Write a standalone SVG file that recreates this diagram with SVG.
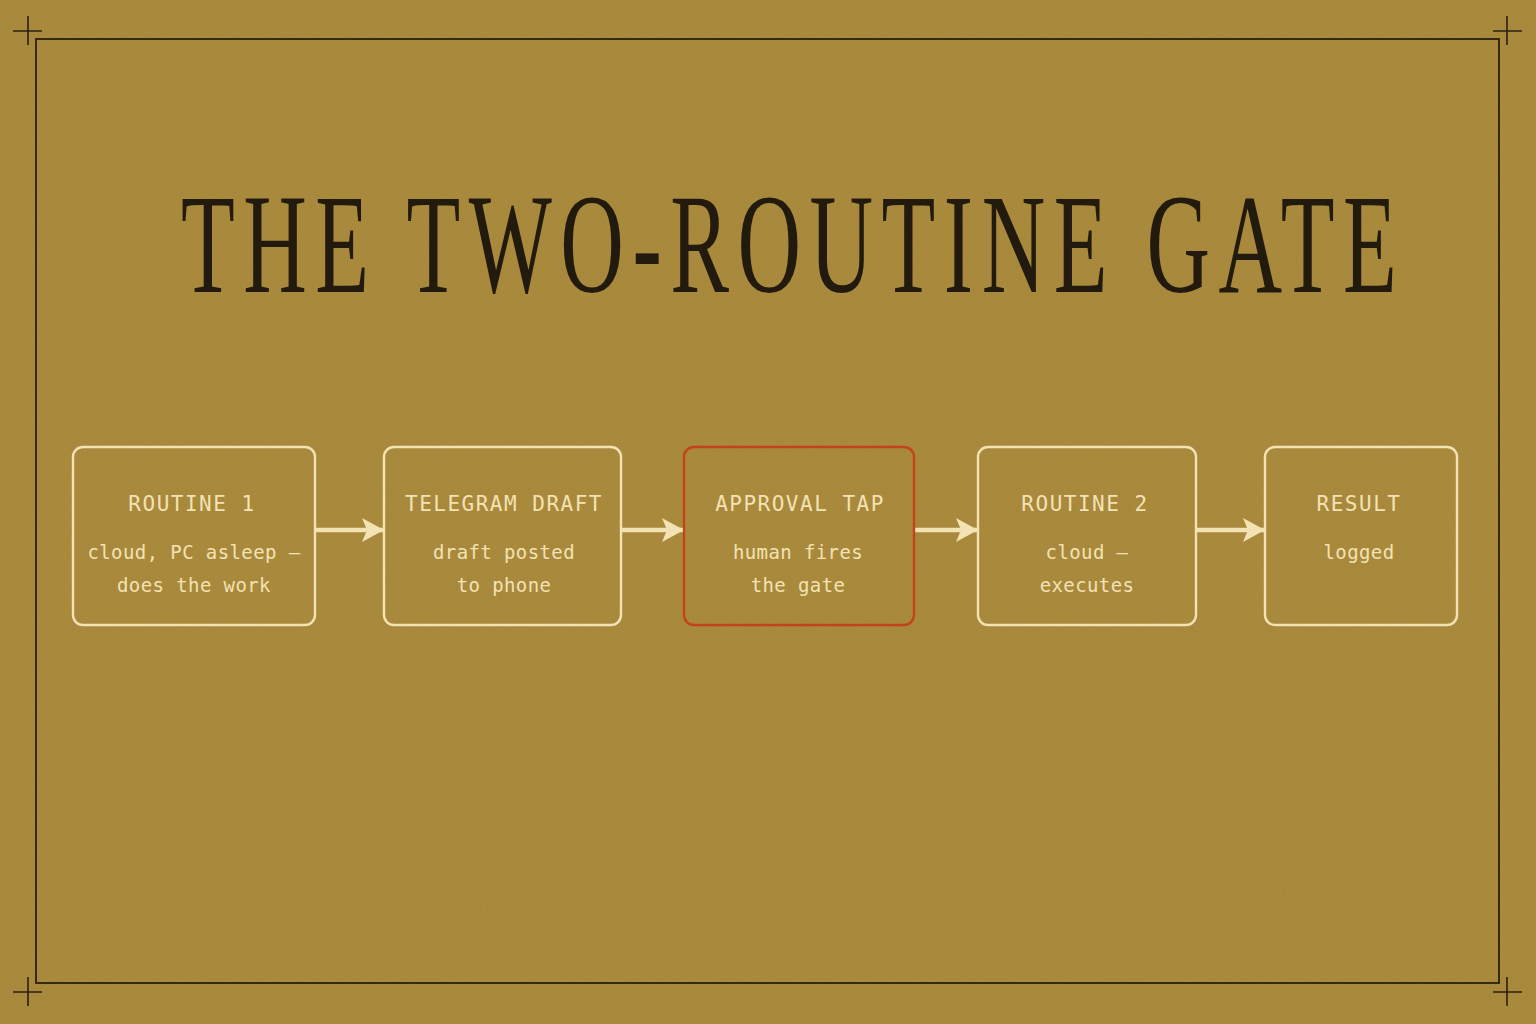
<svg xmlns="http://www.w3.org/2000/svg" width="1536" height="1024" viewBox="0 0 1536 1024">
<defs>
<filter id="paper" x="0" y="0" width="100%" height="100%">
<feTurbulence type="fractalNoise" baseFrequency="0.9" numOctaves="3" seed="4" result="n"/>
<feColorMatrix in="n" type="matrix" values="0 0 0 0 0.45  0 0 0 0 0.35  0 0 0 0 0.12  0 0 0 0.9 -0.35"/>
</filter>
<marker id="ah" viewBox="0 0 22 24" refX="21" refY="12" markerWidth="22" markerHeight="24" markerUnits="userSpaceOnUse" orient="auto">
<path d="M0,0 L22,12 L0,24 L5,12 Z" fill="#f3e2b3"/>
</marker>
<style>
.frame{fill:none;stroke:#2a2010;stroke-width:1.8}
.cross{stroke:#2a2010;stroke-width:1.6}
.box{fill:none;stroke:#f3e2b3;stroke-width:2.4}
.gate{fill:none;stroke:#c4431d;stroke-width:2.4}
.hd{font-family:"DejaVu Sans Mono","Liberation Mono",monospace;font-size:21px;fill:#f3e2b3;text-anchor:middle;letter-spacing:1.5px}
.sb{font-family:"DejaVu Sans Mono","Liberation Mono",monospace;font-size:19px;fill:#f3e2b3;text-anchor:middle;letter-spacing:0.4px}
.edge{stroke:#f3e2b3;stroke-width:4.5;fill:none;marker-end:url(#ah)}
.title{font-family:"Liberation Serif","DejaVu Serif",serif;font-size:142px;fill:#221a0d}
</style>
</defs>
<rect width="1536" height="1024" fill="#a8883a"/>
<rect width="1536" height="1024" filter="url(#paper)" opacity="0.5"/>
<g id="frame">
<rect class="frame" x="36" y="39" width="1463" height="944"/>
<path class="cross" d="M13,31 H42 M28,16 V45 M1493,31 H1522 M1507,16 V45 M13,992 H42 M28,977 V1006 M1493,992 H1522 M1507,977 V1006"/>
</g>
<g id="title" transform="scale(0.62,1)">
<text class="title" x="292" y="292" textLength="1961" lengthAdjust="spacing">THE TWO-ROUTINE GATE</text>
</g>
<g id="connectors">
<line class="edge" x1="316" y1="530" x2="383" y2="530"/>
<line class="edge" x1="622" y1="530" x2="683" y2="530"/>
<line class="edge" x1="915" y1="530" x2="977" y2="530"/>
<line class="edge" x1="1197" y1="530" x2="1264" y2="530"/>
</g>
<g id="routine1">
<rect class="box" x="73" y="447" width="242" height="178" rx="10"/>
<text class="hd" x="192" y="511">ROUTINE 1</text>
<text class="sb" x="194" y="559">cloud, PC asleep —</text>
<text class="sb" x="194" y="592">does the work</text>
</g>
<g id="telegram">
<rect class="box" x="384" y="447" width="237" height="178" rx="10"/>
<text class="hd" x="504" y="511">TELEGRAM DRAFT</text>
<text class="sb" x="504" y="559">draft posted</text>
<text class="sb" x="504" y="592">to phone</text>
</g>
<g id="approval">
<rect class="gate" x="684" y="447" width="230" height="178" rx="10"/>
<text class="hd" x="800" y="511">APPROVAL TAP</text>
<text class="sb" x="798" y="559">human fires</text>
<text class="sb" x="798" y="592">the gate</text>
</g>
<g id="routine2">
<rect class="box" x="978" y="447" width="218" height="178" rx="10"/>
<text class="hd" x="1085" y="511">ROUTINE 2</text>
<text class="sb" x="1087" y="559">cloud —</text>
<text class="sb" x="1087" y="592">executes</text>
</g>
<g id="result">
<rect class="box" x="1265" y="447" width="192" height="178" rx="10"/>
<text class="hd" x="1359" y="511">RESULT</text>
<text class="sb" x="1359" y="559">logged</text>
</g>
</svg>
